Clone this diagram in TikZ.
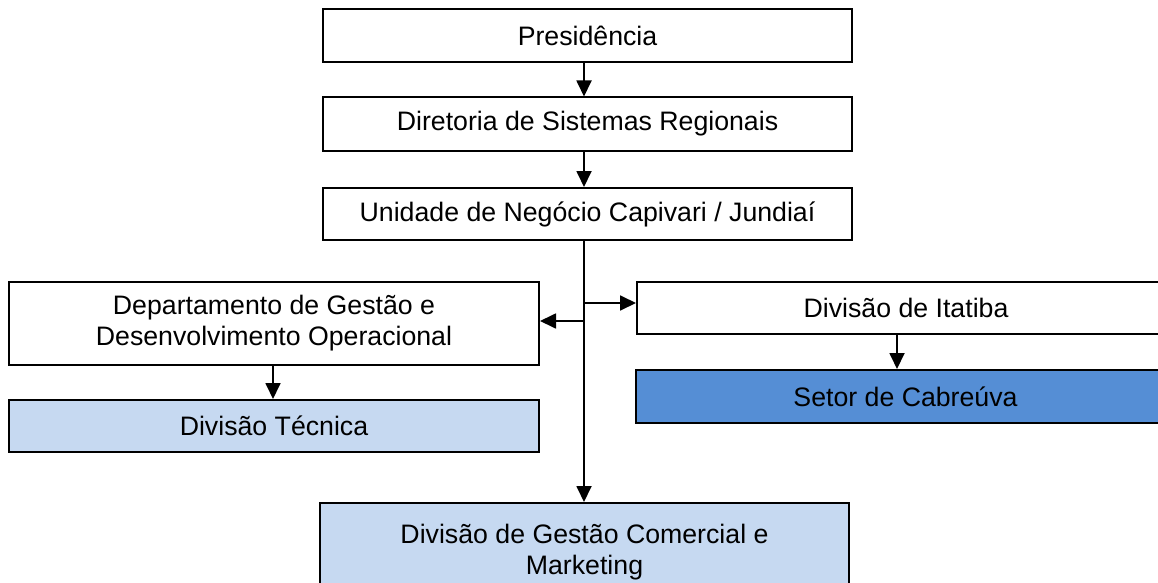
\documentclass[tikz,border=0pt]{standalone}
\usepackage{fontspec}
\setmainfont{Liberation Sans}
\usetikzlibrary{arrows.meta}
\definecolor{lightblue}{HTML}{C6D9F1}
\definecolor{midblue}{HTML}{558ED5}
\begin{document}
\begin{tikzpicture}[x=1pt,y=-1pt,
  orgbox/.style={draw=black, line width=2pt, rectangle, inner sep=0pt, align=center,
    font=\fontsize{26.7}{31}\selectfont, text=black},
  conn/.style={line width=1.8pt, -{Triangle[length=16pt,width=15pt]}}]
\useasboundingbox (0,0) rectangle (1158,583);
\fill[white] (0,0) rectangle (1158,583);
\node[orgbox, fill=white, minimum width=529pt, minimum height=53pt] (pres) at (587.5,35.5) {Presidência};
\node[orgbox, fill=white, minimum width=529pt, minimum height=53pt] (dir) at (587.5,124) {Diretoria de Sistemas Regionais};
\node[orgbox, fill=white, minimum width=529pt, minimum height=52pt] (uni) at (587.5,214) {Unidade de Negócio Capivari / Jundiaí};
\node[orgbox, fill=white, minimum width=530pt, minimum height=83pt] (depto) at (274,323.5) {Departamento de Gestão e\\Desenvolvimento Operacional};
\node[orgbox, fill=lightblue, minimum width=530pt, minimum height=52pt] (tec) at (274,426) {Divisão Técnica};
\node[orgbox, fill=white, minimum width=538pt, minimum height=52pt] (itat) at (906,308) {Divisão de Itatiba};
\node[orgbox, fill=midblue, minimum width=539pt, minimum height=53pt] (cab) at (905.5,396.5) {Setor de Cabreúva};
\node[orgbox, fill=lightblue, minimum width=529pt, minimum height=98pt] (gest) at (584.5,552) {Divisão de Gestão Comercial e\\Marketing};
\coordinate (tx) at (584,0);
\coordinate (bi) at (584,303);
\coordinate (bd) at (584,321);
\coordinate (ix) at (897,0);
\draw[conn] (pres.south -| tx) -- (dir.north -| tx);
\draw[conn] (dir.south -| tx) -- (uni.north -| tx);
\draw[conn] (uni.south -| tx) -- (gest.north -| tx);
\draw[conn] (bi) -- (bi -| itat.west);
\draw[conn] (bd) -- (bd -| depto.east);
\draw[conn] (depto.south -| 273,0) -- (tec.north -| 273,0);
\draw[conn] (itat.south -| ix) -- (cab.north -| ix);
\end{tikzpicture}
\end{document}
